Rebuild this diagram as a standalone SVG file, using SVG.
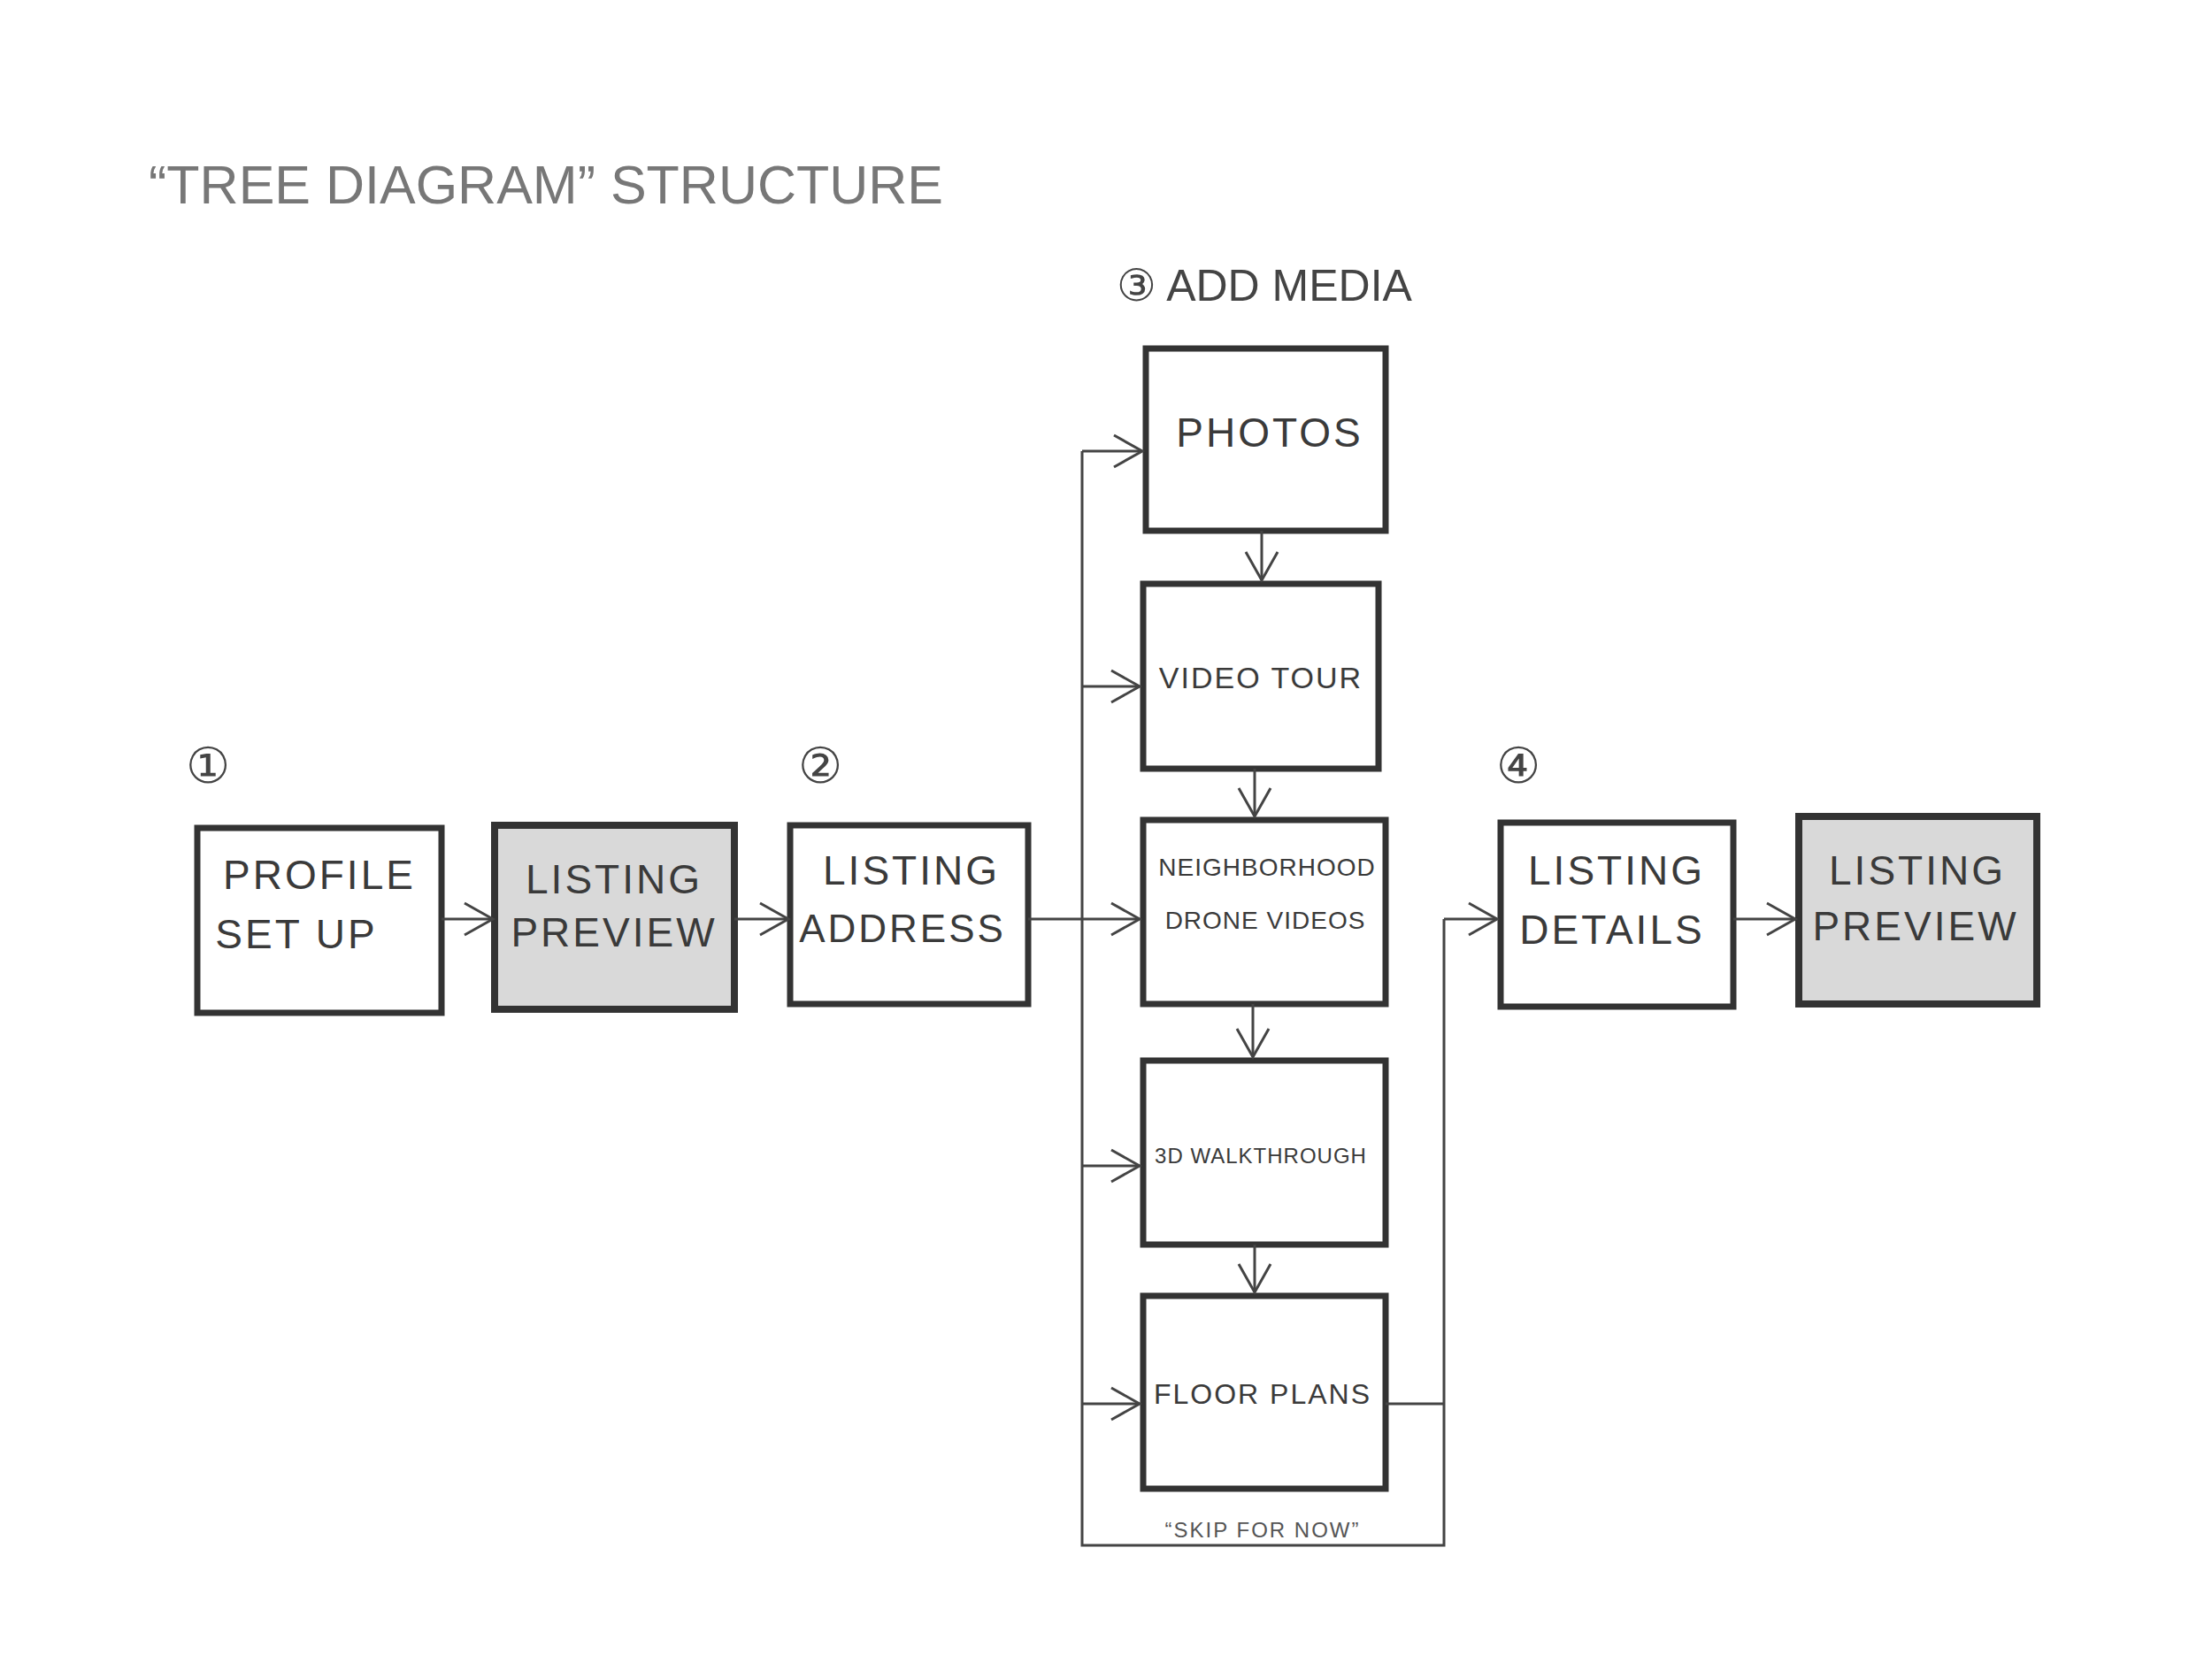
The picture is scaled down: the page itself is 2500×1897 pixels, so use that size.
<svg xmlns="http://www.w3.org/2000/svg" width="2500" height="1897" viewBox="0 0 2500 1897">
<style>
.b{fill:#fff;stroke:#333;stroke-width:7}
.s{fill:#d9d9d9;stroke:#333;stroke-width:8}
.t{font-family:"Liberation Sans",sans-serif;font-size:46px;fill:#3a3a3a;text-anchor:middle;letter-spacing:3px}
.c{fill:none;stroke:#444;stroke-width:3}
</style>
<defs><marker id="A" markerWidth="40" markerHeight="40" refX="36" refY="20" orient="auto" markerUnits="userSpaceOnUse"><path d="M4,2 L36,20 L4,38" fill="none" stroke="#444" stroke-width="3"/></marker></defs>
<rect width="2500" height="1897" fill="#fff"/>
<text x="168" y="230" font-family="Liberation Sans,sans-serif" font-size="61" fill="#777">“TREE DIAGRAM” STRUCTURE</text>
<text x="235" y="885" font-family="Liberation Sans,sans-serif" font-size="56" fill="#444" text-anchor="middle">①</text>
<text x="927" y="885" font-family="Liberation Sans,sans-serif" font-size="56" fill="#444" text-anchor="middle">②</text>
<text x="1716" y="885" font-family="Liberation Sans,sans-serif" font-size="56" fill="#444" text-anchor="middle">④</text>
<text x="1262" y="340" font-family="Liberation Sans,sans-serif" font-size="50" fill="#444">③ ADD MEDIA</text>
<g id="n1"><rect class="b" x="223" y="936" width="276" height="209"/><text class="t" x="361" y="1005">PROFILE</text><text class="t" x="335" y="1072">SET UP</text></g>
<g id="n2"><rect class="s" x="559" y="933" width="271" height="208"/><text class="t" x="694" y="1010">LISTING</text><text class="t" x="694" y="1070">PREVIEW</text></g>
<g id="n3"><rect class="b" x="893" y="933" width="269" height="202"/><text class="t" x="1030" y="1000">LISTING</text><text class="t" x="1020" y="1065" style="font-size:44px">ADDRESS</text></g>
<g id="n4"><rect class="b" x="1295" y="394" width="271" height="206"/><text class="t" x="1435" y="505">PHOTOS</text></g>
<g id="n5"><rect class="b" x="1292" y="660" width="266" height="209"/><text class="t" x="1425" y="778" style="font-size:34px;letter-spacing:2px">VIDEO TOUR</text></g>
<g id="n6"><rect class="b" x="1292" y="927" width="274" height="208"/><text class="t" x="1432" y="990" style="font-size:28px;letter-spacing:1px">NEIGHBORHOOD</text><text class="t" x="1430" y="1050" style="font-size:28px;letter-spacing:1px">DRONE VIDEOS</text></g>
<g id="n7"><rect class="b" x="1292" y="1199" width="274" height="208"/><text class="t" x="1425" y="1315" style="font-size:24px;letter-spacing:1px">3D WALKTHROUGH</text></g>
<g id="n8"><rect class="b" x="1292" y="1465" width="274" height="218"/><text class="t" x="1427" y="1587" style="font-size:32px;letter-spacing:2px">FLOOR PLANS</text></g>
<g id="n9"><rect class="b" x="1696" y="930" width="263" height="208"/><text class="t" x="1827" y="1000">LISTING</text><text class="t" x="1822" y="1067">DETAILS</text></g>
<g id="n10"><rect class="s" x="2033" y="923" width="269" height="212"/><text class="t" x="2167" y="1000">LISTING</text><text class="t" x="2165" y="1063">PREVIEW</text></g>
<g id="connectors">
<line class="c" x1="499" y1="1039" x2="557" y2="1039" marker-end="url(#A)"/>
<line class="c" x1="830" y1="1039" x2="891" y2="1039" marker-end="url(#A)"/>
<line class="c" x1="1162" y1="1039" x2="1288" y2="1039" marker-end="url(#A)"/>
<path class="c" d="M1223,510 V1747 H1632 V1039"/>
<line class="c" x1="1223" y1="510" x2="1291" y2="510" marker-end="url(#A)"/>
<line class="c" x1="1223" y1="776" x2="1288" y2="776" marker-end="url(#A)"/>
<line class="c" x1="1223" y1="1318" x2="1288" y2="1318" marker-end="url(#A)"/>
<line class="c" x1="1223" y1="1587" x2="1288" y2="1587" marker-end="url(#A)"/>
<line class="c" x1="1566" y1="1587" x2="1632" y2="1587"/>
<line class="c" x1="1632" y1="1039" x2="1692" y2="1039" marker-end="url(#A)"/>
<line class="c" x1="1959" y1="1039" x2="2029" y2="1039" marker-end="url(#A)"/>
<line class="c" x1="1426" y1="600" x2="1426" y2="656" marker-end="url(#A)"/>
<line class="c" x1="1418" y1="869" x2="1418" y2="923" marker-end="url(#A)"/>
<line class="c" x1="1416" y1="1135" x2="1416" y2="1195" marker-end="url(#A)"/>
<line class="c" x1="1418" y1="1407" x2="1418" y2="1461" marker-end="url(#A)"/>
</g>
<text x="1427" y="1738" font-family="Liberation Sans,sans-serif" font-size="24" fill="#555" text-anchor="middle" letter-spacing="2">“SKIP FOR NOW”</text>
</svg>
